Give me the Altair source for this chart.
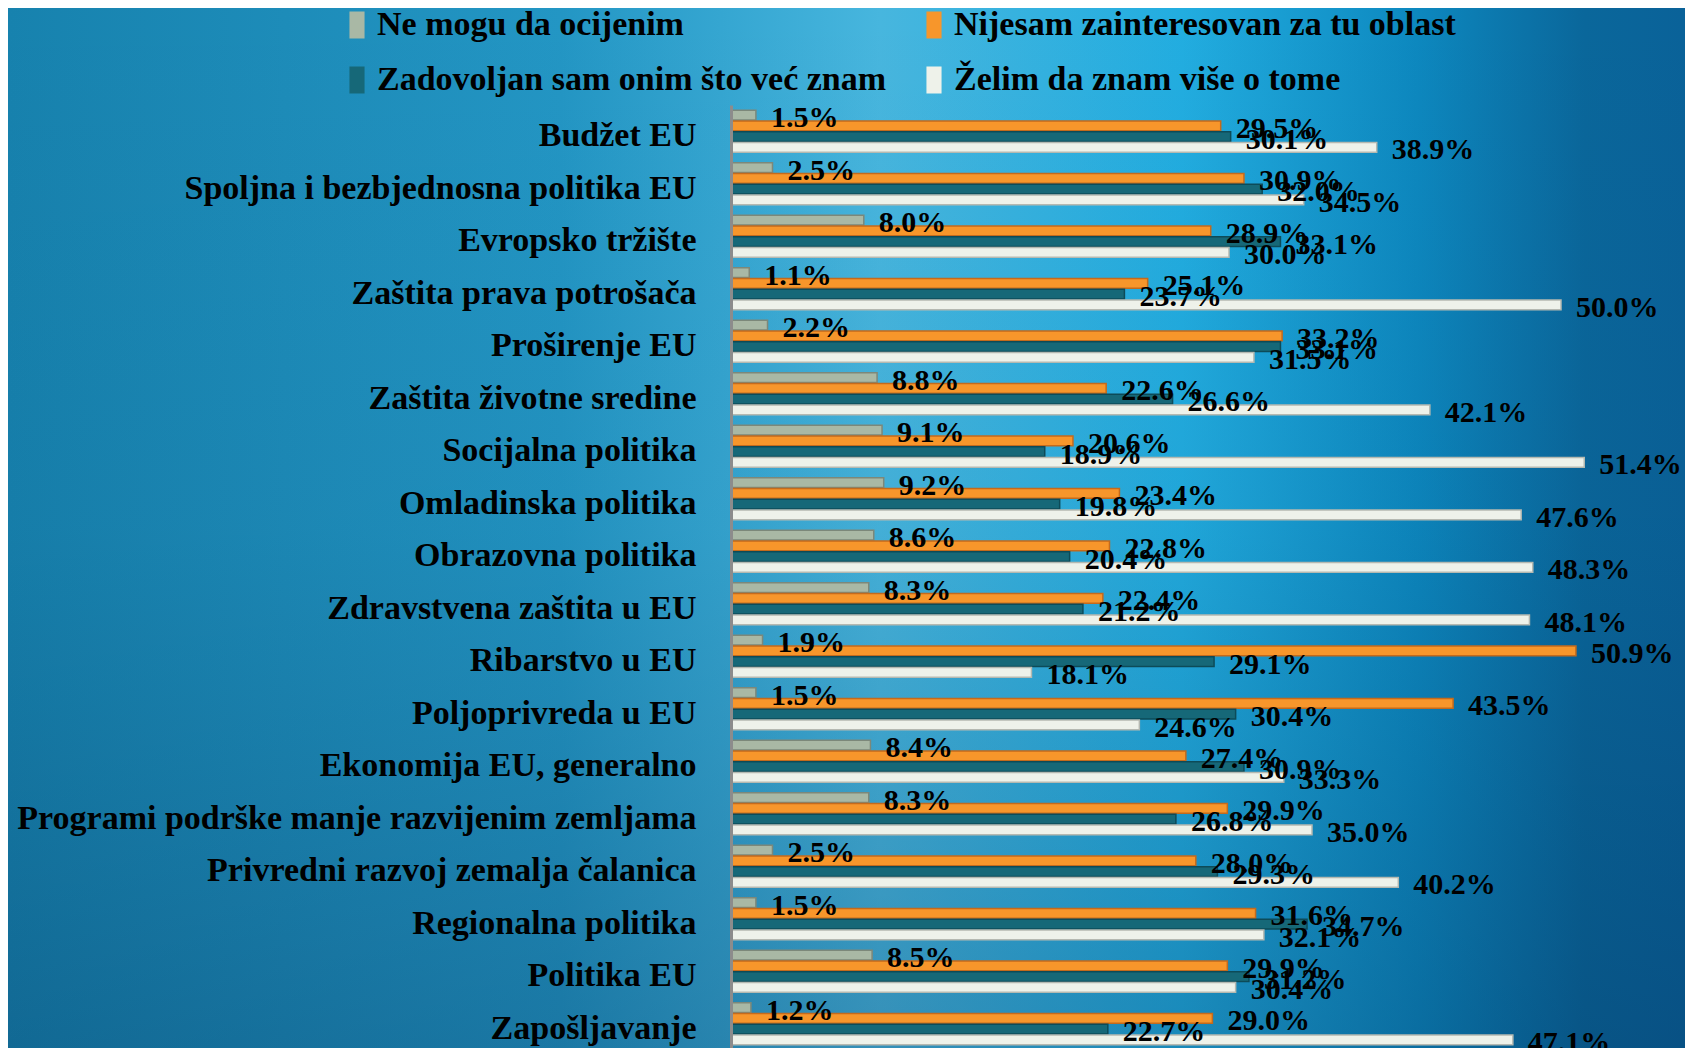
import altair as alt
import pandas as pd

categories = [
    "Budžet EU",
    "Spoljna i bezbjednosna politika EU",
    "Evropsko tržište",
    "Zaštita prava potrošača",
    "Proširenje EU",
    "Zaštita životne sredine",
    "Socijalna politika",
    "Omladinska politika",
    "Obrazovna politika",
    "Zdravstvena zaštita u EU",
    "Ribarstvo u EU",
    "Poljoprivreda u EU",
    "Ekonomija EU, generalno",
    "Programi podrške manje razvijenim zemljama",
    "Privredni razvoj zemalja čalanica",
    "Regionalna politika",
    "Politika EU",
    "Zapošljavanje",
]
series = [
    "Ne mogu da ocijenim",
    "Nijesam zainteresovan za tu oblast",
    "Zadovoljan sam onim što već znam",
    "Želim da znam više o tome",
]
ne_mogu = [1.5, 2.5, 8.0, 1.1, 2.2, 8.8, 9.1, 9.2, 8.6, 8.3, 1.9, 1.5, 8.4, 8.3, 2.5, 1.5, 8.5, 1.2]
nijesam = [29.5, 30.9, 28.9, 25.1, 33.2, 22.6, 20.6, 23.4, 22.8, 22.4, 50.9, 43.5, 27.4, 29.9, 28.0, 31.6, 29.9, 29.0]
zadovoljan = [30.1, 32.0, 33.1, 23.7, 33.1, 26.6, 18.9, 19.8, 20.4, 21.2, 29.1, 30.4, 30.9, 26.8, 29.3, 34.7, 31.2, 22.7]
zelim = [38.9, 34.5, 30.0, 50.0, 31.5, 42.1, 51.4, 47.6, 48.3, 48.1, 18.1, 24.6, 33.3, 35.0, 40.2, 32.1, 30.4, 47.1]

fill_colors = ["#a9b8a5", "#f7962b", "#166878", "#eef2ea"]
edge_colors = ["#7c887a", "#c46a1c", "#0d4b58", "#b5b9b1"]

rows = []
for s, vals in zip(series, [ne_mogu, nijesam, zadovoljan, zelim]):
    for c, v in zip(categories, vals):
        rows.append({"cat": c, "series": s, "value": v})
df = pd.DataFrame(rows)

FONT = "Liberation Serif"
W, H = 913, 945
PAD_L, PAD_T = 723, 97
TOTAL_W, TOTAL_H = 1677, 1040

one = pd.DataFrame({"k": [0]})

grad_h = alt.LinearGradient(
    gradient="linear", x1=0, y1=0, x2=1, y2=0,
    stops=[
        alt.GradientStop(color="#1782ae", offset=0),
        alt.GradientStop(color="#2396c4", offset=0.33),
        alt.GradientStop(color="#47b6de", offset=0.52),
        alt.GradientStop(color="#22ade0", offset=0.7),
        alt.GradientStop(color="#0d88bf", offset=0.84),
        alt.GradientStop(color="#0a679b", offset=0.94),
        alt.GradientStop(color="#0a6299", offset=1),
    ],
)
grad_v = alt.LinearGradient(
    gradient="linear", x1=0, y1=0, x2=0, y2=1,
    stops=[
        alt.GradientStop(color="rgba(0,30,70,0)", offset=0),
        alt.GradientStop(color="rgba(0,30,70,0.05)", offset=0.5),
        alt.GradientStop(color="rgba(0,30,70,0.25)", offset=1),
    ],
)

bg = alt.Chart(one).mark_rect(fill=grad_h).encode(
    x=alt.value(-PAD_L), x2=alt.value(TOTAL_W - PAD_L),
    y=alt.value(-PAD_T), y2=alt.value(TOTAL_H - PAD_T),
)
bg2 = alt.Chart(one).mark_rect(fill=grad_v).encode(
    x=alt.value(-PAD_L), x2=alt.value(TOTAL_W - PAD_L),
    y=alt.value(-PAD_T), y2=alt.value(TOTAL_H - PAD_T),
)

x_enc = alt.X("value:Q", scale=alt.Scale(domain=[0, 55], nice=False), axis=None)
y_enc = alt.Y(
    "cat:N", sort=categories, title=None,
    scale=alt.Scale(paddingInner=0.2, paddingOuter=0.1),
    axis=alt.Axis(
        labelFont=FONT, labelFontSize=34, labelFontWeight="bold", labelColor="black",
        labelPadding=35, ticks=False, domainColor="#8c8c8c", domainWidth=3,
        labelOffset=5, labelLimit=0, zindex=1, grid=False,
    ),
)
yoff_enc = alt.YOffset("series:N", sort=series, scale=alt.Scale(paddingInner=0.08))

bars = alt.Chart(df).mark_bar(strokeWidth=1.5).encode(
    x=x_enc,
    y=y_enc,
    yOffset=yoff_enc,
    color=alt.Color(
        "series:N", sort=series,
        scale=alt.Scale(domain=series, range=fill_colors),
        legend=alt.Legend(
            title=None, orient="none", legendX=-391, legendY=-97, columns=2,
            direction="horizontal",
            labelFont=FONT, labelFontSize=34, labelFontWeight="bold", labelColor="black",
            labelLimit=0, symbolType="M-0.56,-1L0.56,-1L0.56,1L-0.56,1Z",
            symbolSize=729, symbolStrokeWidth=0, symbolOpacity=1, labelOffset=3,
            rowPadding=21, columnPadding=30, padding=0,
        ),
    ),
    stroke=alt.Stroke("series:N", sort=series,
                      scale=alt.Scale(domain=series, range=edge_colors), legend=None),
)

labels = alt.Chart(df).transform_calculate(
    label="format(datum.value, '.1f') + '%'"
).mark_text(
    align="left", baseline="middle", dx=15, dy=3,
    font=FONT, fontWeight="bold", fontSize=30, color="black",
).encode(x=x_enc, y=y_enc, yOffset=yoff_enc, text="label:N")

chart = alt.layer(bg, bg2, bars, labels).properties(
    width=W, height=H,
    autosize=alt.AutoSizeParams(type="none"),
    padding={"left": PAD_L, "top": PAD_T, "right": TOTAL_W - PAD_L - W, "bottom": TOTAL_H - PAD_T - H},
).configure_view(stroke=None).configure(background="#1784b0")

chart.save("out.html", embed_options={"renderer": "svg", "actions": False})
